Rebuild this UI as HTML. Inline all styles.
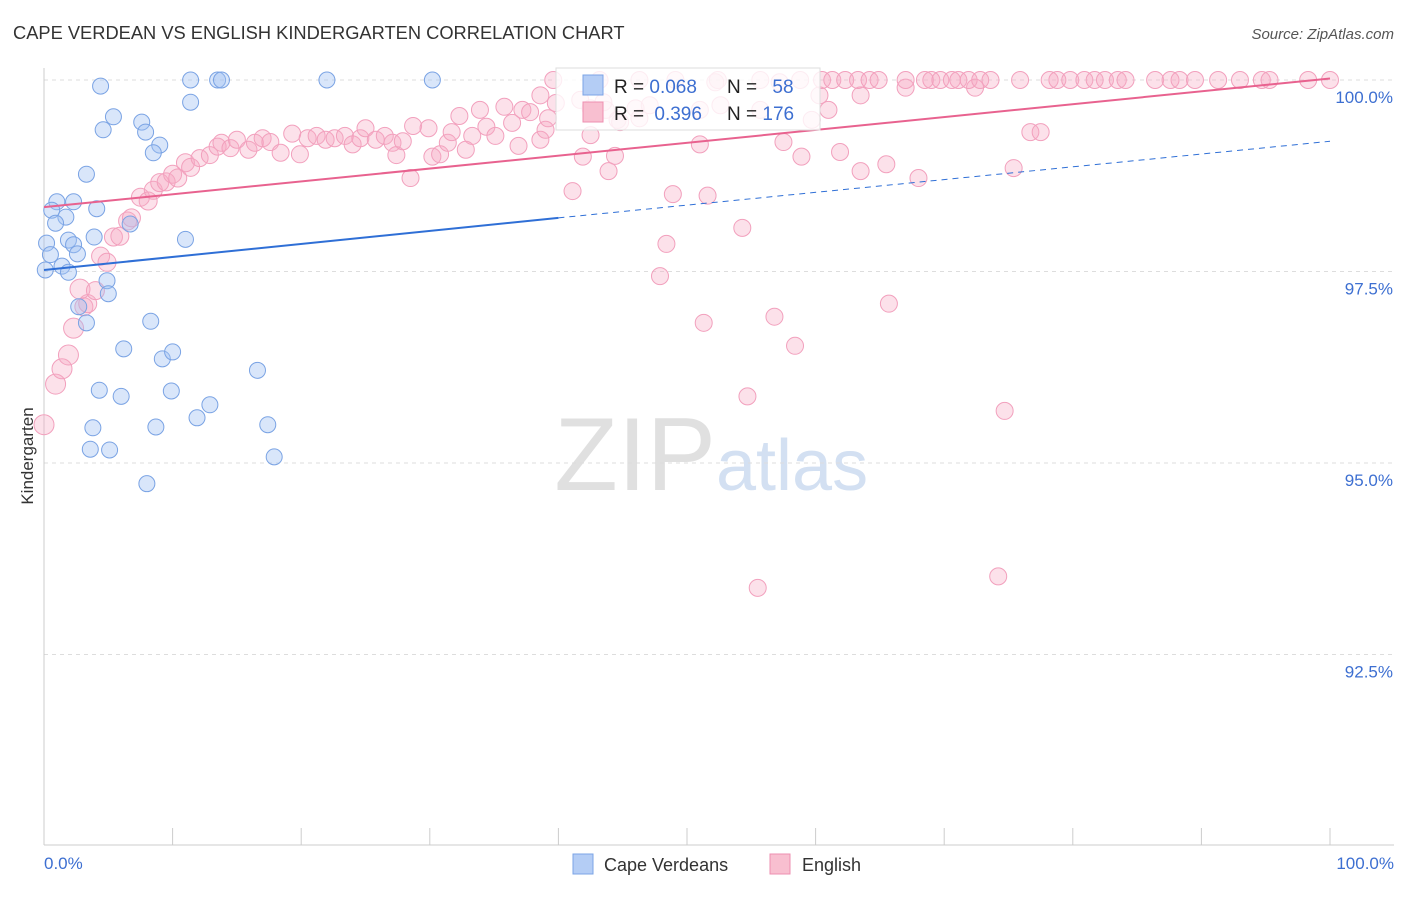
<!DOCTYPE html>
<html><head><meta charset="utf-8">
<style>
body{margin:0;background:#fff;font-family:"Liberation Sans",sans-serif;}
svg text{font-family:"Liberation Sans",sans-serif;}
</style></head>
<body>
<svg id="chart" width="1406" height="892" viewBox="0 0 1406 892" xmlns="http://www.w3.org/2000/svg">
<text x="13" y="39" font-size="18.3" fill="#333">CAPE VERDEAN VS ENGLISH KINDERGARTEN CORRELATION CHART</text>
<text x="1394" y="39" font-size="15" fill="#555" text-anchor="end" font-style="italic">Source: ZipAtlas.com</text>
<text x="716" y="490" font-size="104" fill="#e0e0e0" text-anchor="end" font-family="Liberation Serif">ZIP</text>
<text x="716" y="490" font-size="72" fill="#d3e0f2">atlas</text>
<g id="grid"></g>
<g id="axes"></g>
<g id="marks"></g>
<text transform="translate(33,456) rotate(-90)" font-size="17" fill="#333" text-anchor="middle">Kindergarten</text>
<g>
<rect x="556" y="68" width="264" height="62" fill="#fff" fill-opacity="0.8" stroke="#ddd"/>
<rect x="583" y="75" width="20" height="20" fill="#b4cdf5" stroke="#7ba4e6"/>
<rect x="583" y="102" width="20" height="20" fill="#f8bfd0" stroke="#ee8fb0"/>
<text x="614" y="93" font-size="19" fill="#222">R = <tspan fill="#3d6fd1">0.068</tspan></text>
<text x="727" y="93" font-size="19" fill="#222">N = <tspan fill="#3d6fd1" dx="10">58</tspan></text>
<text x="614" y="120" font-size="19" fill="#222">R = <tspan fill="#3d6fd1" dx="5">0.396</tspan></text>
<text x="727" y="120" font-size="19" fill="#222">N = <tspan fill="#3d6fd1">176</tspan></text>
</g>
<g>
<rect x="573" y="854" width="20" height="20" fill="#b4cdf5" stroke="#7ba4e6"/>
<text x="604" y="871" font-size="18" fill="#333">Cape Verdeans</text>
<rect x="770" y="854" width="20" height="20" fill="#f8bfd0" stroke="#ee8fb0"/>
<text x="802" y="871" font-size="18" fill="#333">English</text>
</g>
</svg>
<script>
const yTicks=[100,97.5,95,92.5];
const yTickLabels=["100.0%","97.5%","95.0%","92.5%"];
const xTickLabels=["0.0%","100.0%"];
const blueX=[4.4,11.4,13.5,13.8,22.0,30.2,11.4,5.4,4.6,7.6,7.9,9.0,8.5,3.3,1.0,0.6,2.3,4.1,1.7,0.9,6.7,0.2,0.5,1.9,2.3,3.9,11.0,2.6,1.4,1.9,0.1,4.9,5.0,2.7,3.3,8.3,6.2,9.2,10.0,16.6,4.3,6.0,9.9,12.9,11.9,3.8,8.7,17.4,3.6,5.1,17.9,8.0];
const blueY=[99.92,100,100,100,100,100,99.71,99.52,99.35,99.45,99.32,99.15,99.05,98.77,98.41,98.30,98.41,98.32,98.21,98.13,98.12,97.87,97.72,97.91,97.85,97.95,97.92,97.73,97.57,97.49,97.52,97.38,97.21,97.04,96.83,96.85,96.49,96.36,96.45,96.21,95.95,95.87,95.94,95.76,95.59,95.46,95.47,95.50,95.18,95.17,95.08,94.73];
const pinkX=[0.0,0.9,1.4,1.9,2.3,3.1,3.4,2.8,4.0,4.4,4.9,5.4,5.9,6.5,6.8,7.5,8.1,8.5,9.0,9.5,10.0,10.4,11.0,11.4,12.1,12.9,13.5,13.8,14.5,15.0,15.9,16.4,17.0,17.6,18.4,19.3,19.9,20.5,21.2,21.9,22.6,23.4,24.0,24.6,25.0,25.8,26.5,27.1,27.4,27.9,28.5,28.7,29.9,30.2,30.8,31.4,31.7,32.3,32.8,33.3,33.9,34.4,35.1,35.8,36.4,36.9,37.2,37.8,38.6,39.0,39.2,39.8,41.1,41.9,42.5,43.5,43.9,44.4,44.6,46.3,47.9,48.4,48.9,51.0,51.3,51.6,54.3,54.7,55.5,56.8,57.5,58.4,58.9,59.7,61.0,61.9,63.5,65.5,65.7,68.0,74.7,74.2,75.4,76.7,77.5,38.6,41.7,42.5,43.7,44.8,46.0,47.1,51.0,52.6,55.7,60.3,63.5,67.0,72.4,52.2,57.2,
39.6,43.2,46.3,49.1,52.4,55.7,58.8,60.5,61.3,62.3,63.3,64.2,64.9,67.0,68.5,69.0,69.7,70.6,71.1,71.9,72.8,73.6,75.9,78.2,78.8,79.8,80.9,81.7,82.5,83.5,84.1,86.4,87.6,88.3,89.5,91.3,93.0,94.7,95.3,98.3,100];
const pinkY=[95.50,96.03,96.23,96.41,96.76,97.04,97.08,97.27,97.25,97.70,97.62,97.95,97.96,98.16,98.20,98.47,98.42,98.56,98.66,98.67,98.77,98.72,98.92,98.86,98.98,99.02,99.13,99.18,99.11,99.22,99.09,99.18,99.24,99.19,99.05,99.30,99.03,99.24,99.27,99.22,99.24,99.27,99.16,99.24,99.37,99.22,99.27,99.18,99.02,99.20,98.72,99.40,99.37,99.00,99.03,99.18,99.32,99.53,99.09,99.27,99.61,99.39,99.27,99.65,99.44,99.14,99.61,99.58,99.22,99.35,99.50,99.70,98.55,99.00,99.28,99.71,98.81,99.01,99.48,99.50,97.44,97.86,98.51,99.16,96.83,98.49,98.07,95.87,93.37,96.91,99.19,96.53,99.00,99.48,99.61,99.06,98.81,98.90,97.08,98.72,95.68,93.52,98.85,99.32,99.32,99.80,99.74,99.63,99.61,99.45,99.63,99.67,99.61,99.67,99.61,99.80,99.80,99.90,99.90,99.97,99.97,
100,100,100,100,100,100,100,100,100,100,100,100,100,100,100,100,100,100,100,100,100,100,100,100,100,100,100,100,100,100,100,100,100,100,100,100,100,100,100,100,100];
const blueTrend=[97.52,98.20,99.20];
const pinkTrend=[98.34,100.02];
const NS="http://www.w3.org/2000/svg";
const xs=v=>44+v*12.86;
const ys=v=>80+(100-v)*76.6;
function mk(tag,attrs,parent){const e=document.createElementNS(NS,tag);for(const k in attrs)e.setAttribute(k,attrs[k]);parent.appendChild(e);return e;}
const grid=document.getElementById('grid'),axes=document.getElementById('axes'),marks=document.getElementById('marks');
yTicks.forEach((t,i)=>{
 const l=mk('line',{x1:44,x2:1394,y1:ys(t),y2:ys(t),stroke:'#ddd','stroke-dasharray':'4,4'},grid);
 
 
 const tx=mk('text',{x:1393,y:ys(t)+23,'font-size':17,fill:'#3d6fd1','text-anchor':'end'},axes);
 tx.textContent=yTickLabels[i];
 
 
});
const ax=mk('line',{x1:44,x2:1394,y1:845,y2:845,stroke:'#ccc'},axes);


const ay=mk('line',{x1:44,x2:44,y1:68,y2:845,stroke:'#ccc'},axes);


for(let i=0;i<=10;i++){const t=mk('line',{x1:xs(i*10),x2:xs(i*10),y1:828,y2:845,stroke:'#ccc'},axes);
 
 }
const xl0=mk('text',{x:44,y:869,'font-size':17,fill:'#3d6fd1'},axes);xl0.textContent=xTickLabels[0];


const xl1=mk('text',{x:1394,y:869,'font-size':17,fill:'#3d6fd1','text-anchor':'end'},axes);xl1.textContent=xTickLabels[1];


pinkX.forEach((x,i)=>{const r=x<3?10:(x<12?9:8.5);
 const c=mk('circle',{cx:xs(x),cy:ys(pinkY[i]),r:r,fill:'rgba(246,170,196,0.35)',stroke:'#f2a0bd','stroke-width':1},marks);
 
 });
blueX.forEach((x,i)=>{
 const c=mk('circle',{cx:xs(x),cy:ys(blueY[i]),r:8,fill:'rgba(160,192,242,0.4)',stroke:'#7aa3e4','stroke-width':1},marks);
 
 });
const b1=mk('line',{x1:xs(0),y1:ys(blueTrend[0]),x2:xs(40),y2:ys(blueTrend[1]),stroke:'#2f6fd6','stroke-width':2},marks);


const b2=mk('line',{x1:xs(40),y1:ys(blueTrend[1]),x2:xs(100),y2:ys(blueTrend[2]),stroke:'#2f6fd6','stroke-width':1,'stroke-dasharray':'6,5'},marks);


const p1=mk('line',{x1:xs(0),y1:ys(pinkTrend[0]),x2:xs(100),y2:ys(pinkTrend[1]),stroke:'#e8628f','stroke-width':2},marks);


</script>
</body></html>
